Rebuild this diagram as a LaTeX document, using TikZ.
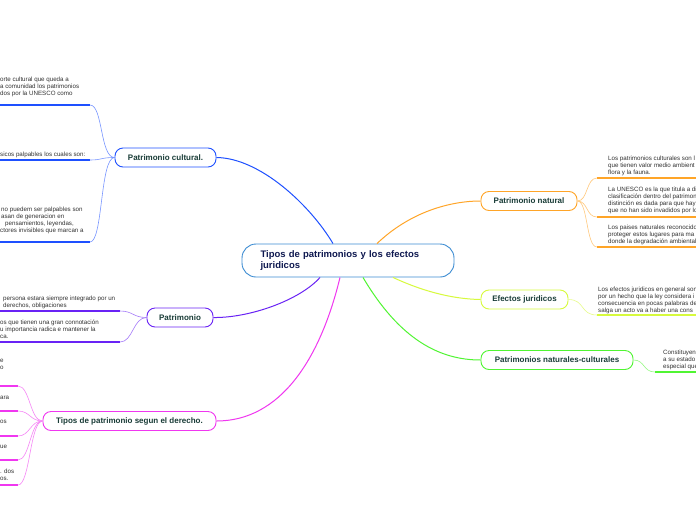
\documentclass[tikz,border=0pt]{standalone}
\usepackage{fontspec}
\setmainfont{Liberation Sans}
\usepackage{xcolor}
\usepackage{tikz}

\definecolor{rootblue}{RGB}{60,140,210}
\definecolor{rootink}{RGB}{15,25,80}
\definecolor{topicink}{RGB}{25,60,55}
\definecolor{leafink}{RGB}{50,50,50}
\definecolor{cblue}{RGB}{30,80,255}
\definecolor{cpurple}{RGB}{105,35,245}
\definecolor{cmagenta}{RGB}{240,55,240}
\definecolor{corange}{RGB}{255,165,40}
\definecolor{cyellow}{RGB}{215,250,60}
\definecolor{cgreen}{RGB}{80,245,50}

\tikzset{
  rootbox/.style={draw=rootblue, line width=0.9pt, rounded corners=14pt, fill=white,
    text=rootink, font=\bfseries\fontsize{9.5}{11}\selectfont, align=left,
    text width=175pt, inner xsep=18.5pt, minimum height=33pt},
  topic/.style={draw=#1, line width=0.9pt, rounded corners=8pt, fill=white,
    text=topicink, font=\bfseries\fontsize{8}{9}\selectfont, minimum height=19pt, inner xsep=0pt},
  leaf/.style={anchor=north west, inner sep=0pt, align=left, text=leafink,
    font=\fontsize{6.2}{6.8}\selectfont},
  limb/.style={draw=#1, line width=1pt},
  twig/.style={draw=#1!60, line width=0.6pt},
  bar/.style={draw=#1, line width=1.8pt},
}

\begin{document}
\begin{tikzpicture}[x=1pt,y=-1pt]
        \useasboundingbox (0,0) rectangle (696,520);
        \clip (0,0) rectangle (696,520);
        \fill[white] (0,0) rectangle (696,520);

        % Central topic
        \node[rootbox] (root) at (348,260.5) {Tipos de patrimonios y los efectos\\juridicos};

        % Main topics
        \node[topic=cblue, minimum width=101pt] (cultural) at (165.5,157.5) {Patrimonio cultural.};
        \node[topic=cpurple, minimum width=66pt] (patri) at (180,317.5) {Patrimonio};
        \node[topic=cmagenta, minimum width=173pt] (tipos) at (129.5,421) {Tipos de patrimonio segun el derecho.};
        \node[topic=corange, minimum width=96pt] (natural) at (529,201) {Patrimonio natural};
        \node[topic=cyellow, minimum width=87pt] (efectos) at (524.5,299.5) {Efectos juridicos};
        \node[topic=cgreen, minimum width=152pt] (mixto) at (557,360) {Patrimonios naturales-culturales};

        % Branches from the centre
        \draw[limb=cblue] ([xshift=-15pt]root.north) .. controls (310,205) and (260,158) .. (cultural.east);
        \draw[limb=cpurple] ([xshift=-28pt]root.south) .. controls (300,300) and (250,318) .. (patri.east);
        \draw[limb=cmagenta] ([xshift=-8pt]root.south) .. controls (320,360) and (280,421) .. (tipos.west -| tipos.east);
        \draw[limb=corange] ([xshift=29pt]root.north) .. controls (410,212) and (450,201) .. (natural.west);
        \draw[limb=cyellow] ([xshift=45pt]root.south) .. controls (420,290) and (450,299) .. (efectos.west);
        \draw[limb=cgreen] ([xshift=15pt]root.south) .. controls (400,340) and (440,360) .. (mixto.west);

        % Patrimonio cultural: notes
        \node[leaf] (cul1) at (0,77) {orte cultural que queda a\\a comunidad los patrimonios\\dos por la UNESCO como};
        \node[leaf] (cul2) at (0,152) {sicos palpables los cuales son:};
        \node[leaf] (cul3) at (0,207) {\hspace{1pt}no puedem ser palpables son\\\hspace{1pt}asan de generacion en\\\hspace{5pt}pensamientos, leyendas,\\ctores invisibles que marcan a};
        \coordinate (cul1e) at (90,105);
        \coordinate (cul2e) at (90,160);
        \coordinate (cul3e) at (90,242);
        \draw[bar=cblue] (0,105) -- (cul1e);
        \draw[bar=cblue] (0,160) -- (cul2e);
        \draw[bar=cblue] (0,242) -- (cul3e);
        \draw[twig=cblue] (cultural.west) .. controls (100,157.5) and (103,105) .. (cul1e);
        \draw[twig=cblue] (cultural.west) .. controls (100,157.5) and (103,160) .. (cul2e);
        \draw[twig=cblue] (cultural.west) .. controls (100,157.5) and (103,242) .. (cul3e);

        % Patrimonio: notes
        \node[leaf] (pat1) at (0,296) {\hspace{3pt}persona estara siempre integrado por un\\\hspace{3pt}derechos, obligaciones};
        \node[leaf] (pat2) at (0,320) {os que tienen una gran connotación\\u importancia radica e mantener la\\ca.};
        \coordinate (pat1e) at (120,311);
        \coordinate (pat2e) at (120,342);
        \draw[bar=cpurple] (0,311) -- (pat1e);
        \draw[bar=cpurple] (0,342) -- (pat2e);
        \draw[twig=cpurple] (patri.west) .. controls (133,317.5) and (133,311) .. (pat1e);
        \draw[twig=cpurple] (patri.west) .. controls (133,317.5) and (133,342) .. (pat2e);

        % Tipos de patrimonio: notes
        \node[leaf] (tip1) at (0,359) {e\\o};
        \node[leaf] (tip2) at (0,396) {ara};
        \node[leaf] (tip3) at (0,420) {os};
        \node[leaf] (tip4) at (0,445) {ue};
        \node[leaf] (tip5) at (0,469) {. dos\\os.};
        \coordinate (tip1e) at (18,386);
        \coordinate (tip2e) at (18,411);
        \coordinate (tip3e) at (18,436);
        \coordinate (tip4e) at (18,460);
        \coordinate (tip5e) at (18,485);
        \foreach \y/\c in {386/tip1e,411/tip2e,436/tip3e,460/tip4e,485/tip5e}{
          \draw[bar=cmagenta] (0,\y) -- (\c);
          \draw[twig=cmagenta] (tipos.west) .. controls (30,421) and (30,\y) .. (\c);
        }

        % Patrimonio natural: notes
        \node[leaf] (nat1) at (608,156) {Los patrimonios culturales son l\\que tienen valor medio ambient\\flora y la fauna.};
        \node[leaf] (nat2) at (608,187) {La UNESCO es la que titula a di\\clasificación dentro del patrimon\\distinción es dada para que hay\\que no han sido invadidos por lo};
        \node[leaf] (nat3) at (608,225) {Los paises naturales reconocido\\proteger estos lugares para ma\\donde la degradación ambiental};
        \coordinate (nat1s) at (597,178);
        \coordinate (nat2s) at (597,217);
        \coordinate (nat3s) at (597,247);
        \draw[bar=corange] (nat1s) -- (696,178);
        \draw[bar=corange] (nat2s) -- (696,217);
        \draw[bar=corange] (nat3s) -- (696,247);
        \draw[twig=corange] (natural.east) .. controls (588,201) and (586,178) .. (nat1s);
        \draw[twig=corange] (natural.east) .. controls (588,201) and (586,217) .. (nat2s);
        \draw[twig=corange] (natural.east) .. controls (588,201) and (586,247) .. (nat3s);

        % Efectos juridicos: note
        \node[leaf] (efe1) at (598,287) {Los efectos juridicos en general son\\por un hecho que la ley considera i\\consecuencia en pocas palabras de\\salga un acto va a haber una cons};
        \coordinate (efe1s) at (597,315);
        \draw[bar=cyellow] (efe1s) -- (696,315);
        \draw[twig=cyellow] (efectos.east) .. controls (585,299.5) and (580,315) .. (efe1s);

        % Patrimonios naturales-culturales: note
        \node[leaf] (mix1) at (663,350) {Constituyen\\a su estado\\especial que};
        \coordinate (mix1s) at (655,372);
        \draw[bar=cgreen] (mix1s) -- (696,372);
        \draw[twig=cgreen] (mixto.east) .. controls (645,360) and (643,372) .. (mix1s);
    \end{tikzpicture}
\end{document}
